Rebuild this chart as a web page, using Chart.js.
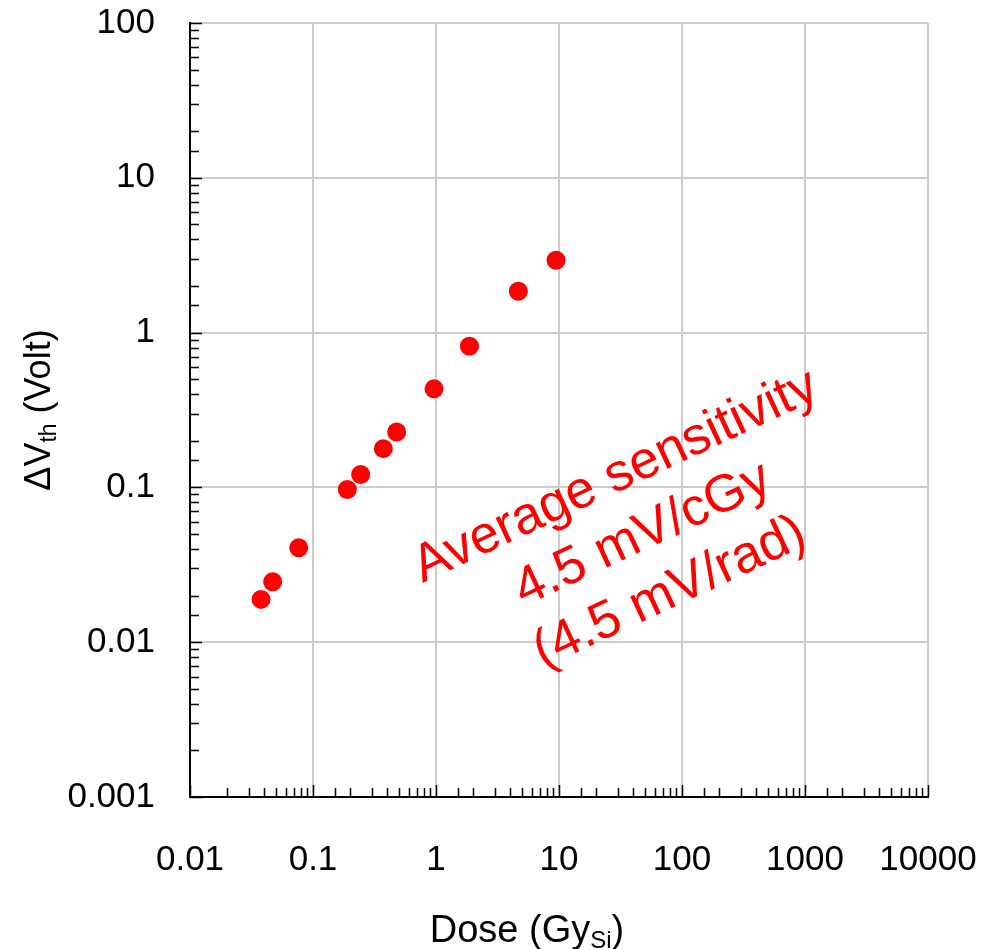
<!DOCTYPE html>
<html>
<head>
<meta charset="utf-8">
<script src="https://cdn.jsdelivr.net/npm/chart.js@4"></script>
<style>
  html, body { margin: 0; padding: 0; background: #fff; }
  #wrap { width: 986px; height: 949px; }
</style>
</head>
<body>
<div id="wrap"><canvas id="dose-chart"></canvas></div>
<script>
// Dose (Gy Si) and threshold voltage shift (Volt)
const doses = [0.0378, 0.047, 0.0766, 0.19, 0.244, 0.373, 0.479, 0.964, 1.87, 4.67, 9.46];
const deltaVth = [0.0189, 0.0246, 0.0408, 0.097, 0.121, 0.178, 0.228, 0.433, 0.816, 1.85, 2.93];

const xTickLabels = ["0.01", "0.1", "1", "10", "100", "1000", "10000"];
const yTickLabels = ["0.001", "0.01", "0.1", "1", "10", "100"];
const noteLines = ["Average sensitivity", "4.5 mV/cGy", "(4.5 mV/rad)"];

const FONT = "'Liberation Sans', Arial, sans-serif";

function isDecade(v) {
  const l = Math.log10(v);
  return Math.abs(l - Math.round(l)) < 1e-6;
}

// inward tick marks on the left and bottom axes
const innerTicks = {
  id: "innerTicks",
  afterDraw(chart) {
    const ctx = chart.ctx;
    const area = chart.chartArea;
    const x = chart.scales.x;
    const y = chart.scales.y;
    ctx.save();
    ctx.strokeStyle = "#000";
    ctx.lineWidth = 1.5;
    ctx.beginPath();
    x.ticks.forEach((t) => {
      const px = Math.round(x.getPixelForValue(t.value)) + 0.5;
      const len = isDecade(t.value) ? 12 : 9;
      ctx.moveTo(px, area.bottom);
      ctx.lineTo(px, area.bottom - len);
    });
    y.ticks.forEach((t) => {
      const py = Math.round(y.getPixelForValue(t.value)) + 0.5;
      const len = isDecade(t.value) ? 12 : 9;
      ctx.moveTo(area.left, py);
      ctx.lineTo(area.left + len, py);
    });
    ctx.stroke();
    ctx.restore();
  },
};

// axis titles with subscripts, and the rotated red note
const labels = {
  id: "labels",
  afterDraw(chart) {
    const ctx = chart.ctx;
    const area = chart.chartArea;
    ctx.save();
    ctx.fillStyle = "#000";
    ctx.textBaseline = "alphabetic";

    // x title: Dose (Gy_Si), sits a bit left of the plot centre
    let big = "38px " + FONT;
    let small = "24px " + FONT;
    ctx.font = big;
    const w1 = ctx.measureText("Dose (Gy").width;
    const w3 = ctx.measureText(")").width;
    ctx.font = small;
    const w2 = ctx.measureText("Si").width;
    const sx = 527 - (w1 + w2 + w3) / 2;
    const by = 942;
    ctx.textAlign = "left";
    ctx.font = big;
    ctx.fillText("Dose (Gy", sx, by);
    ctx.font = small;
    ctx.fillText("Si", sx + w1, by + 6);
    ctx.font = big;
    ctx.fillText(")", sx + w1 + w2, by);

    // y title: ΔV_th (Volt)
    big = "36px " + FONT;
    small = "23px " + FONT;
    ctx.save();
    ctx.translate(50, (area.top + area.bottom) / 2);
    ctx.rotate(-Math.PI / 2);
    ctx.font = big;
    const a1 = ctx.measureText("ΔV").width;
    const a3 = ctx.measureText(" (Volt)").width;
    ctx.font = small;
    const a2 = ctx.measureText("th").width;
    const ty = -(a1 + a2 + a3) / 2;
    ctx.font = big;
    ctx.fillText("ΔV", ty, 0);
    ctx.font = small;
    ctx.fillText("th", ty + a1, 6);
    ctx.font = big;
    ctx.fillText(" (Volt)", ty + a1 + a2, 0);
    ctx.restore();

    // note, middle line's baseline centred on the anchor
    ctx.save();
    ctx.fillStyle = "#ff0000";
    ctx.translate(649, 548);
    ctx.rotate((-25 * Math.PI) / 180);
    ctx.font = "40px " + FONT;
    const base = ctx.measureText(noteLines[0]).width;
    const size = 40 * 440 / base;
    ctx.font = size.toFixed(1) + "px " + FONT;
    ctx.textAlign = "center";
    ctx.textBaseline = "alphabetic";
    noteLines.forEach((line, i) => {
      ctx.fillText(line, 0, (i - 1) * 64);
    });
    ctx.restore();

    ctx.restore();
  },
};

const points = doses.map((d, i) => ({ x: d, y: deltaVth[i] }));

const gridColor = (c) => (c.tick && isDecade(c.tick.value) ? "#cccccc" : "rgba(0,0,0,0)");

new Chart(document.getElementById("dose-chart").getContext("2d"), {
  type: "scatter",
  data: {
    datasets: [
      {
        data: points,
        backgroundColor: "#ff0000",
        borderWidth: 0,
        pointRadius: 9.5,
        pointHoverRadius: 9.5,
      },
    ],
  },
  options: {
    responsive: true,
    maintainAspectRatio: false,
    animation: false,
    layout: { padding: { top: 23, right: 58, left: 0, bottom: 0 } },
    plugins: { legend: { display: false }, tooltip: { enabled: false } },
    scales: {
      x: {
        type: "logarithmic",
        min: 0.01,
        max: 10000,
        afterFit: (s) => {
          s.height = 152;
          s.paddingLeft = 0;
          s.paddingRight = 0;
        },
        border: { color: "#000", width: 2 },
        grid: { color: gridColor, lineWidth: 2, drawTicks: false },
        ticks: {
          autoSkip: false,
          maxRotation: 0,
          padding: 42,
          color: "#000",
          font: { family: FONT, size: 35 },
          callback: (v) => (isDecade(v) ? xTickLabels[Math.round(Math.log10(v)) + 2] : ""),
        },
      },
      y: {
        type: "logarithmic",
        min: 0.001,
        max: 100,
        afterFit: (s) => {
          s.width = 190;
          s.paddingTop = 0;
          s.paddingBottom = 0;
        },
        border: { color: "#000", width: 2 },
        grid: { color: gridColor, lineWidth: 2, drawTicks: false },
        ticks: {
          autoSkip: false,
          padding: 35,
          color: "#000",
          font: { family: FONT, size: 35 },
          callback: (v) => (isDecade(v) ? yTickLabels[Math.round(Math.log10(v)) + 3] : ""),
        },
      },
    },
  },
  plugins: [innerTicks, labels],
});
</script>
</body>
</html>
